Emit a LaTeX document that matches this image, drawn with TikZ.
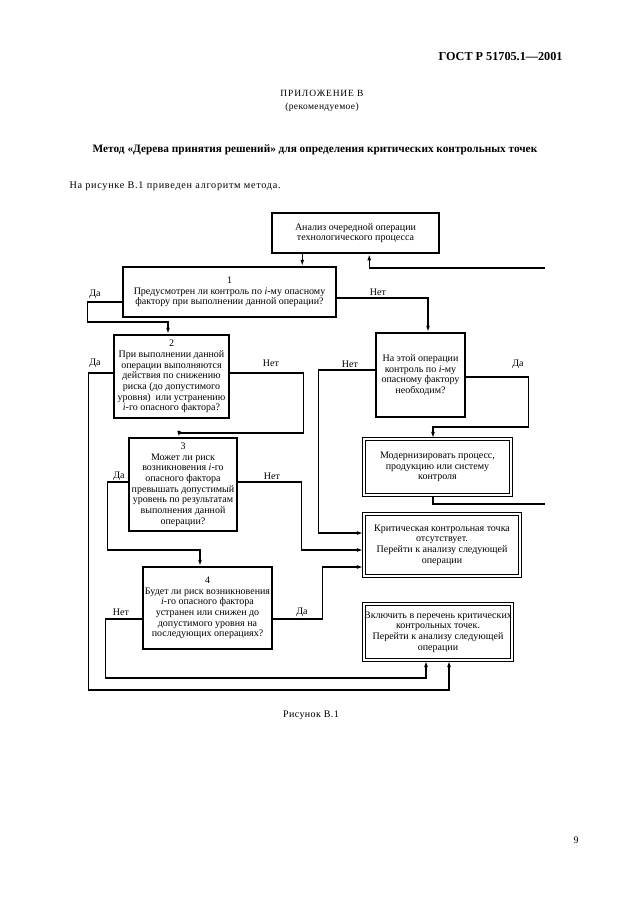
\documentclass[tikz,border=0pt]{standalone}
\usepackage{fontspec}
\setmainfont{Liberation Serif}
\usetikzlibrary{arrows.meta}

\tikzset{
  box/.style={draw, line width=1.5pt, align=center, inner xsep=0pt, inner ysep=1pt,
    font=\fontsize{10}{10.7}\selectfont},
  dbox/.style={box, double, double distance=1.8pt, line width=1.1pt},
  conn/.style={line width=1.3pt},
  arr/.style={conn, -{Latex[length=6.5pt,width=3.8pt]}},
  lab/.style={font=\fontsize{10}{12}\selectfont, inner sep=0pt},
}

\begin{document}
\begin{tikzpicture}[x=1pt,y=-1pt]

    % page is 630 x 914, y runs downwards
    \useasboundingbox (0,0) rectangle (630,914);

    % page head
    \node[anchor=east, font=\fontsize{12.2}{14}\selectfont\bfseries] (gost) at (566,57) {ГОСТ Р 51705.1—2001};
    \node[font=\fontsize{9.5}{11}\selectfont\addfontfeatures{LetterSpace=9}] (annex) at (322,93) {ПРИЛОЖЕНИЕ В};
    \node[font=\fontsize{9.5}{11}\selectfont\addfontfeatures{LetterSpace=4}] (kind) at (322,107) {(рекомендуемое)};
    \node[font=\fontsize{11.3}{13}\selectfont\bfseries] (title) at (315,150)
        {Метод «Дерева принятия решений» для определения критических контрольных точек};
    \node[anchor=west, font=\fontsize{10.2}{12}\selectfont\addfontfeatures{LetterSpace=7}] (intro) at (66,186)
        {На рисунке В.1 приведен алгоритм метода.};

    % boxes
    \node[box, minimum width=167, minimum height=40] (anal) at (355.5,233)
        {Анализ очередной операции\\технологического процесса};
    \node[box, minimum width=213, minimum height=50] (q1) at (229.5,292)
        {1\\Предусмотрен ли контроль по \textit{i}-му опасному\\фактору при выполнении данной операции?};
    \node[box, minimum width=115, minimum height=83] (q2) at (171.5,376.5)
        {2\\При выполнении данной\\операции выполняются\\действия по снижению\\риска (до допустимого\\уровня)~ или устранению\\\textit{i}-го опасного фактора?};
    \node[box, minimum width=108, minimum height=93] (q3) at (183,484.5)
        {3\\Может ли риск\\возникновения \textit{i}-го\\опасного фактора\\превышать допустимый\\уровень по результатам\\выполнения данной\\операции?};
    \node[box, minimum width=129, minimum height=82] (q4) at (207.5,608)
        {4\\Будет ли риск возникновения\\\textit{i}-го опасного фактора\\устранен или снижен до\\допустимого уровня на\\последующих операциях?};
    \node[box, minimum width=89, minimum height=84] (need) at (420.5,375)
        {На этой операции\\контроль по \textit{i}-му\\опасному фактору\\необходим?};
    \node[dbox, minimum width=147, minimum height=56] (modern) at (437.5,467)
        {Модернизировать процесс,\\продукцию или систему\\контроля};
    \node[dbox, minimum width=156, minimum height=62] (nocp) at (442,545)
        {Критическая контрольная точка\\отсутствует.\\Перейти к анализу следующей\\операции};
    \node[dbox, minimum width=146, minimum height=56] (incl) at (438,632)
        {Включить в перечень критических\\контрольных точек.\\Перейти к анализу следующей\\операции};

    % free ends at the right margin
    \coordinate (back) at (545,268);
    \coordinate (fwd) at (545,504);

    % connectors
    \draw[arr] ([xshift=31pt]anal.south west) -- ([xshift=31pt]anal.south west |- q1.north);
    \draw[arr] (back) -| ([xshift=98pt]anal.south west);
    \draw[arr] ([yshift=-10pt]q1.west) -| ++(-35,20) -| ([xshift=-3.5pt]q2.north);
    \draw[arr] ([yshift=-6pt]q1.east) -| ([xshift=7.5pt]need.north);
    \draw[arr] ([yshift=3.5pt]q2.west) -| ++(-25,317) -| ([xshift=11pt]incl.south);
    \draw[arr] ([yshift=3.5pt]q2.east) -| ++(74,60) -| ([xshift=-4pt]q3.north);
    \draw[arr] ([yshift=2.5pt]q3.west) -| ++(-21,68) -| ([xshift=-7.5pt]q4.north);
    \draw[arr] ([yshift=2.5pt]q3.east) -| ([xshift=-62pt,yshift=-5pt]nocp.west) -- ([yshift=-5pt]nocp.west);
    \draw[arr] ([yshift=-11pt]q4.east) -| ([xshift=-41pt,yshift=-22pt]nocp.west) -- ([yshift=-22pt]nocp.west);
    \draw[arr] ([yshift=-11pt]q4.west) -| ++(-37,59) -| ([xshift=-12pt]incl.south);
    \draw[arr] ([yshift=5pt]need.west) -| ([xshift=-45pt,yshift=12pt]nocp.west) -- ([yshift=12pt]nocp.west);
    \draw[arr] ([yshift=-2pt]need.east) -| ++(63,50) -| ([xshift=-4.5pt]modern.north);
    \draw[conn] ([xshift=-4.5pt]modern.south) |- (fwd);

    % yes / no
    \node[lab] (q1yes) at (95,294) {Да};
    \node[lab] (q1no) at (378,292) {Нет};
    \node[lab] (q2yes) at (95,363) {Да};
    \node[lab] (q2no) at (271,363) {Нет};
    \node[lab] (q3yes) at (119,476) {Да};
    \node[lab] (q3no) at (272,476) {Нет};
    \node[lab] (q4no) at (121,612) {Нет};
    \node[lab] (q4yes) at (302,612) {Да};
    \node[lab] (needno) at (350,364) {Нет};
    \node[lab] (needyes) at (518,364) {Да};

    % caption and page number
    \node[font=\fontsize{10}{12}\selectfont\addfontfeatures{LetterSpace=4}] (cap) at (311,715) {Рисунок В.1};
    \node[font=\fontsize{10}{12}\selectfont] (pageno) at (576,840) {9};

\end{tikzpicture}
\end{document}
